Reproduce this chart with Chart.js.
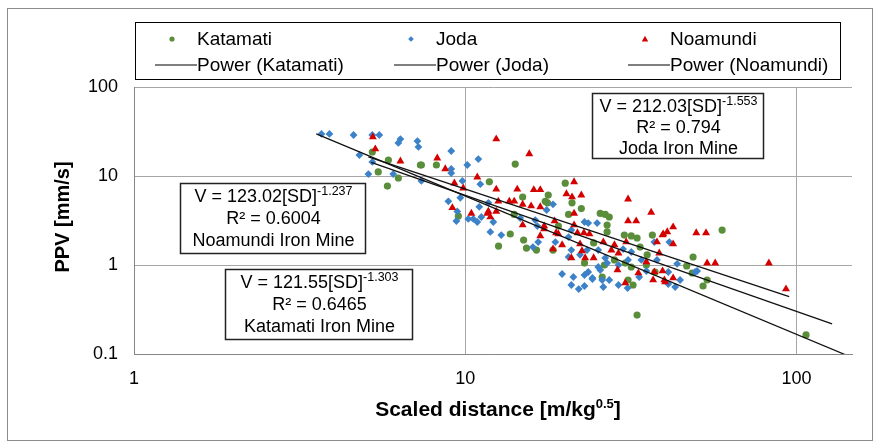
<!DOCTYPE html>
<html>
<head>
<meta charset="utf-8">
<script src="https://cdn.jsdelivr.net/npm/chart.js@4.4.0/dist/chart.umd.min.js"></script>
<style>
  html, body { margin: 0; padding: 0; background: #fff; }
  #chart { display: block; }
</style>
</head>
<body>
<canvas id="chart" width="879" height="444"></canvas>
<script>
// scaled distance [m/kg^0.5] and PPV [mm/s]
const katamatiSD  = [5.24, 5.86, 7.32, 5.46, 6.28, 5.82, 14.15, 7.37, 8.18, 11.82, 9.53, 13.67, 12.6,
  20.03, 17.8, 14.9, 17.43, 17.7, 21.0, 20.5, 22.4, 14.05, 19.1, 15.0, 15.3, 16.4, 18.4, 22.9,
  25.55, 26.45, 27.2, 26.8, 26.8, 30.2, 31.7, 33.0, 36.7, 24.4, 33.7, 35.4, 28.2, 26.3, 30.4, 31.7,
  35.2, 25.9, 31.0, 32.1, 33.0, 59.6, 48.7, 46.6, 48.4, 37.4, 53.7, 52.2, 106.8];
const katamatiPPV = [18.6, 15.1, 13.3, 11.1, 9.5, 7.7, 13.6, 13.3, 13.3, 8.6, 3.55, 2.23, 1.63,
  8.3, 6.1, 5.8, 5.2, 5.0, 5.0, 3.7, 4.3, 3.7, 2.74, 1.91, 1.55, 1.47, 1.47, 1.05,
  3.8, 3.7, 3.46, 2.81, 2.35, 2.17, 2.12, 2.01, 2.17, 1.77, 1.59, 1.30, 1.14, 1.0, 1.05, 0.95,
  1.0, 0.733, 0.678, 0.596, 0.274, 2.47, 1.23, 0.975, 0.813, 0.834, 0.678, 0.581, 0.164];

const jodaSD  = [3.68, 3.89, 4.60, 5.24, 5.50, 6.37, 6.28, 7.17, 7.22, 4.79, 5.24, 5.10, 6.06, 7.37,
  9.07, 10.95, 9.07, 9.07, 10.14, 9.80, 11.10, 9.66, 8.89, 11.74, 11.02, 9.46, 10.21, 10.57, 11.18,
  9.40, 10.87, 12.15, 14.65, 11.90, 12.84, 18.4, 17.6, 16.26, 22.9, 16.5, 20.9, 18.7, 20.5, 16.0,
  16.6, 20.9, 23.3, 20.5, 22.2, 19.6, 21.2, 22.9, 20.9, 22.9, 22.0, 24.2, 25.0, 23.5, 37.2, 25.2,
  29.95, 31.7, 26.45, 31.0, 34.0, 37.9, 25.2, 26.8, 29.0, 23.5, 25.55, 35.2, 24.2, 25.9, 27.2,
  29.0, 30.9, 26.1, 33.5, 41.3, 43.6, 50.1, 49.4, 41.0, 44.5, 41.0, 43.0];
const jodaPPV = [29.7, 29.7, 28.9, 28.9, 28.9, 26.0, 23.5, 24.7, 21.2, 17.2, 14.4, 10.5, 10.5, 8.8,
  19.1, 15.5, 12.0, 10.8, 13.3, 8.8, 8.1, 5.7, 5.2, 5.0, 4.5, 4.0, 3.29, 3.29, 3.46,
  3.12, 3.04, 3.04, 3.37, 2.35, 2.17, 4.8, 4.15, 3.2, 3.04, 2.74, 2.47, 1.81, 2.06, 1.59,
  1.81, 1.47, 1.47, 1.23, 1.30, 0.792, 0.733, 0.772, 0.596, 0.581, 0.537, 0.696, 2.96, 2.96, 1.81, 1.47,
  1.51, 1.40, 1.20, 1.14, 1.14, 1.14, 0.95, 1.05, 1.0, 0.834, 0.879, 0.856, 0.714, 0.678, 0.678,
  0.596, 0.551, 0.566, 0.733, 1.81, 1.03, 0.856, 0.834, 0.834, 0.678, 0.612, 0.566];

const noamundiSD  = [5.26, 5.35, 6.37, 12.40, 8.23, 8.70, 10.87, 9.27, 9.86, 12.40, 14.35, 12.58, 13.58,
  14.05, 9.14, 11.74, 12.40, 10.43, 11.66, 11.90, 15.6, 16.1, 16.84, 21.3, 20.2, 21.0, 22.4, 14.9,
  15.8, 16.84, 21.3, 18.6, 21.3, 14.9, 17.3, 17.3, 18.8, 19.1, 21.8, 22.8, 23.7, 16.84, 19.6, 18.4,
  22.2, 22.5, 20.9, 23.0, 31.0, 36.4, 31.0, 32.8, 39.6, 30.6, 26.1, 28.2, 27.6, 29.0, 38.5, 24.4,
  35.2, 28.8, 33.3, 37.2, 30.4, 36.9, 39.9, 42.4, 40.7, 39.4, 49.8, 53.3, 42.4, 37.9, 53.7, 56.8,
  39.4, 42.4, 40.1, 82.5, 92.9];
const noamundiPPV = [27.4, 20.1, 14.7, 26.0, 15.9, 12.0, 9.7, 8.3, 7.3, 7.1, 7.1, 5.2, 5.2,
  5.2, 4.4, 4.0, 4.0, 3.8, 3.8, 3.46, 17.7, 7.0, 7.0, 8.6, 6.3, 5.8, 6.1, 4.8,
  4.6, 4.5, 3.8, 3.12, 2.81, 2.81, 2.74, 2.54, 2.29, 2.23, 2.29, 2.29, 2.23, 2.12, 1.68, 1.51,
  1.72, 1.44, 1.20, 1.20, 5.5, 3.9, 3.12, 3.12, 2.23, 1.81, 1.81, 1.68, 1.47, 1.36, 1.36, 1.20,
  1.08, 0.879, 0.813, 0.834, 0.628, 0.678, 0.678, 2.67, 2.35, 2.17, 2.29, 2.29, 1.72, 1.81, 1.05, 1.05,
  0.856, 0.714, 0.644, 1.05, 0.537];

// power trendline end points
const katamatiFitSD = [5.2, 128], katamatiFitPPV = [14.2, 0.218];
const jodaFitSD = [3.55, 140], jodaFitPPV = [29.8, 0.0986];
const noamundiFitSD = [5.1, 95], noamundiFitPPV = [16.4, 0.44];

const xTicks = [1, 10, 100];
const yTicks = [0.1, 1, 10, 100];

const seriesNames = ['Katamati', 'Joda', 'Noamundi'];
const fitNames = ['Power (Katamati)', 'Power (Joda)', 'Power (Noamundi)'];
const equations = [
  { eq: 'V = 212.03[SD]', exp: '-1.553', r2: '0.794', mine: 'Joda Iron Mine' },
  { eq: 'V = 123.02[SD]', exp: '-1.237', r2: '0.6004', mine: 'Noamundi Iron Mine' },
  { eq: 'V = 121.55[SD]', exp: '-1.303', r2: '0.6465', mine: 'Katamati Iron Mine' },
];

const GREEN = '#5B8E3A', BLUE = '#3C82C8', RED = '#D40000';
const FONT = "'Liberation Sans', Arial, sans-serif";

const pts = (xs, ys) => xs.map((x, i) => ({ x: x, y: ys[i] }));

function fitLine(xs, ys) {
  return {
    type: 'line', data: pts(xs, ys), borderColor: '#111', borderWidth: 1.3,
    pointRadius: 0, fill: false, order: 0,
  };
}

// small helper to write text with a superscript piece
function richWidth(ctx, parts) {
  let w = 0;
  parts.forEach(p => { ctx.font = p.font; w += ctx.measureText(p.text).width; });
  return w;
}
function drawRich(ctx, parts, cx, y) {
  let x = cx - richWidth(ctx, parts) / 2;
  ctx.textAlign = 'left';
  ctx.textBaseline = 'alphabetic';
  parts.forEach(p => {
    ctx.font = p.font;
    ctx.fillText(p.text, x, y - (p.rise || 0));
    x += ctx.measureText(p.text).width;
  });
}

function drawMarker(ctx, style, x, y, r, color) {
  ctx.fillStyle = color;
  ctx.beginPath();
  if (style === 'circle') {
    ctx.arc(x, y, r, 0, Math.PI * 2);
  } else if (style === 'rectRot') {
    ctx.moveTo(x, y - r); ctx.lineTo(x + r, y); ctx.lineTo(x, y + r); ctx.lineTo(x - r, y);
  } else {
    ctx.moveTo(x, y - r); ctx.lineTo(x + r, y + r * 0.8); ctx.lineTo(x - r, y + r * 0.8);
  }
  ctx.closePath();
  ctx.fill();
}

const decor = {
  id: 'decor',
  afterDraw(chart) {
    const ctx = chart.ctx;
    ctx.save();

    // outer chart border
    ctx.strokeStyle = '#8C8C8C';
    ctx.lineWidth = 1;
    ctx.strokeRect(7.5, 8.5, 865, 432);

    // legend
    ctx.strokeStyle = '#000';
    ctx.strokeRect(135.5, 22.5, 705, 57);
    const cols = [155, 394, 628];
    const styles = ['circle', 'rectRot', 'triangle'];
    const colors = [GREEN, BLUE, RED];
    const sizes = [2.6, 2.8, 3.2];
    ctx.font = '19px ' + FONT;
    ctx.textBaseline = 'middle';
    ctx.textAlign = 'left';
    cols.forEach((cx, i) => {
      drawMarker(ctx, styles[i], cx + 17, 39, sizes[i], colors[i]);
      ctx.fillStyle = '#000';
      ctx.fillText(seriesNames[i], cx + 42, 40);
      ctx.strokeStyle = '#000';
      ctx.lineWidth = 1.2;
      ctx.beginPath(); ctx.moveTo(cx, 65); ctx.lineTo(cx + 42, 65); ctx.stroke();
      ctx.fillText(fitNames[i], cx + 42, 66);
    });

    // equation boxes
    const boxes = [[592, 93, 171, 65], [180, 183, 185, 70], [225, 269, 187, 70]];
    boxes.forEach((b, i) => {
      const [bx, by, bw, bh] = b;
      const e = equations[i];
      ctx.fillStyle = '#fff';
      ctx.fillRect(bx, by, bw, bh);
      ctx.strokeStyle = '#222';
      ctx.lineWidth = 1.5;
      ctx.strokeRect(bx + 0.5, by + 0.5, bw, bh);
      ctx.fillStyle = '#000';
      const cx = bx + bw / 2 + 1;
      const f = '18px ' + FONT, fs = '12.5px ' + FONT;
      const step = bh > 66 ? 22 : 21;
      drawRich(ctx, [{ text: e.eq, font: f }, { text: e.exp, font: fs, rise: 7 }], cx, by + 19);
      drawRich(ctx, [{ text: 'R\u00B2 = ' + e.r2, font: f }], cx, by + 19 + step);
      drawRich(ctx, [{ text: e.mine, font: f }], cx, by + 19 + step * 2);
    });

    // axis titles
    ctx.fillStyle = '#000';
    drawRich(ctx, [
      { text: 'Scaled distance [m/kg', font: 'bold 21px ' + FONT },
      { text: '0.5', font: 'bold 13px ' + FONT, rise: 8 },
      { text: ']', font: 'bold 21px ' + FONT },
    ], 498, 416);
    ctx.translate(69, 217);
    ctx.rotate(-Math.PI / 2);
    drawRich(ctx, [{ text: 'PPV [mm/s]', font: 'bold 20px ' + FONT }], 0, 0);
    ctx.restore();
  }
};

const tickFont = { family: FONT, size: 18 };

new Chart(document.getElementById('chart'), {
  type: 'scatter',
  data: {
    datasets: [
      { label: seriesNames[0], data: pts(katamatiSD, katamatiPPV), pointStyle: 'circle',
        pointRadius: 3.6, backgroundColor: GREEN, borderColor: GREEN, borderWidth: 0, order: 3 },
      { label: seriesNames[1], data: pts(jodaSD, jodaPPV), pointStyle: 'rectRot',
        pointRadius: 3.9, backgroundColor: BLUE, borderColor: BLUE, borderWidth: 0, order: 2 },
      { label: seriesNames[2], data: pts(noamundiSD, noamundiPPV), pointStyle: 'triangle',
        pointRadius: 4.6, backgroundColor: RED, borderColor: RED, borderWidth: 0, order: 1 },
      Object.assign(fitLine(katamatiFitSD, katamatiFitPPV), { label: fitNames[0] }),
      Object.assign(fitLine(jodaFitSD, jodaFitPPV), { label: fitNames[1] }),
      Object.assign(fitLine(noamundiFitSD, noamundiFitPPV), { label: fitNames[2] }),
    ]
  },
  options: {
    responsive: false,
    animation: false,
    devicePixelRatio: 1,
    layout: { padding: { top: 87, right: 27, left: 0, bottom: 0 } },
    plugins: { legend: { display: false }, tooltip: { enabled: false } },
    scales: {
      x: {
        type: 'logarithmic', min: 1, max: 147,
        afterBuildTicks: s => { s.ticks = xTicks.map(v => ({ value: v })); },
        afterFit: s => { s.height = 90; },
        ticks: { font: tickFont, color: '#000', padding: 14, maxRotation: 0, callback: v => String(v) },
        grid: { color: '#A6A6A6', lineWidth: 1, drawTicks: false },
        border: { color: '#868686', width: 1 },
      },
      y: {
        type: 'logarithmic', min: 0.1, max: 100,
        afterBuildTicks: s => { s.ticks = yTicks.map(v => ({ value: v })); },
        afterFit: s => { s.width = 134; },
        ticks: { font: tickFont, color: '#000', padding: 16, callback: v => String(v) },
        grid: { color: '#A6A6A6', lineWidth: 1, drawTicks: false },
        border: { color: '#868686', width: 1 },
      }
    }
  },
  plugins: [decor]
});
</script>
</body>
</html>
